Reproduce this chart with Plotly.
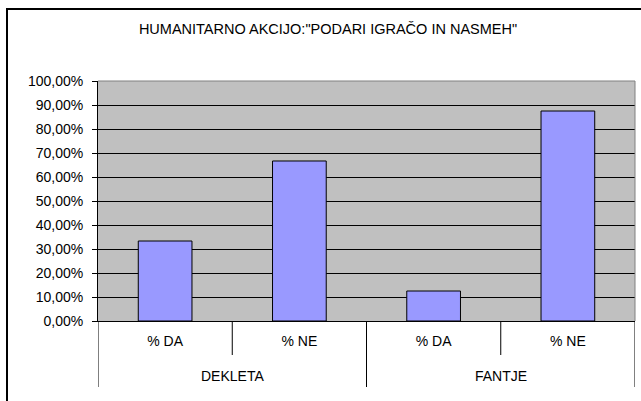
import plotly.graph_objects as go

groups = ["DEKLETA", "DEKLETA", "FANTJE", "FANTJE"]
subs = ["% DA", "% NE", "% DA", "% NE"]
values = [0.3333, 0.6667, 0.125, 0.875]
title_text = 'HUMANITARNO AKCIJO:"PODARI IGRAČO IN NASMEH"'

W, H = 641, 401
L, R, T, B = 98, 6, 81, 80
pw, ph = W - L - R, H - T - B
FONT = "Liberation Sans, Arial, sans-serif"
FS = 14

xs = list(range(len(values)))

fig = go.Figure(go.Bar(
    x=xs, y=values, width=0.4,
    marker=dict(color="#9999FF", line=dict(color="black", width=1)),
    hoverinfo="skip",
))

def px2py(dy):  # pixels below axis -> paper y
    return -dy / ph

shapes = []
n = len(xs)
for i in range(n + 1):
    b = i - 0.5
    is_group_edge = i == 0 or i == n or groups[i] != groups[i - 1]
    depth = 66 if is_group_edge else 34
    shapes.append(dict(type="line", xref="x", yref="paper", x0=b, x1=b,
                       y0=0, y1=px2py(depth), line=dict(color="black", width=1)))
shapes.append(dict(type="line", xref="paper", yref="paper", x0=0, x1=1, y0=1, y1=1,
                   line=dict(color="#808080", width=1), layer="above"))
shapes.append(dict(type="line", xref="paper", yref="paper", x0=1, x1=1, y0=0, y1=1,
                   line=dict(color="#808080", width=1), layer="above"))
shapes.append(dict(type="rect", xref="paper", yref="paper",
                   x0=(7 - L) / pw, x1=1.5, y0=-2, y1=1 + (T - 9) / ph,
                   line=dict(color="black", width=2), layer="below"))

annotations = []
seen = []
for g in groups:
    if g not in seen:
        seen.append(g)
for g in seen:
    idx = [i for i, gg in enumerate(groups) if gg == g]
    annotations.append(dict(x=sum(idx) / len(idx), xref="x", y=0, yref="paper",
                            text=g, showarrow=False, yanchor="middle", yshift=-55,
                            font=dict(family=FONT, size=FS, color="black")))

fig.update_layout(
    width=W, height=H,
    margin=dict(l=L, r=R, t=T, b=B),
    paper_bgcolor="white",
    plot_bgcolor="#C0C0C0",
    separators=", ",
    showlegend=False,
    font=dict(family=FONT, size=FS, color="black"),
    title=dict(text=title_text, x=328 / W, xanchor="center", y=1 - 29 / H, yanchor="middle",
               font=dict(family=FONT, size=14.5, color="black")),
    shapes=shapes,
    annotations=annotations,
)
fig.update_yaxes(range=[0, 1], dtick=0.1, tick0=0, tickformat=".2%",
                 showgrid=True, gridcolor="black", gridwidth=1,
                 showline=True, linecolor="black", linewidth=1,
                 ticks="outside", ticklen=5, tickcolor="black",
                 ticklabelstandoff=6, zeroline=False,
                 tickfont=dict(family=FONT, size=FS, color="black"))
fig.update_xaxes(range=[-0.5, n - 0.5], tickvals=xs, ticktext=subs,
                 showgrid=False, zeroline=False, showline=True, linecolor="black", linewidth=1,
                 ticks="", ticklabelstandoff=7,
                 tickfont=dict(family=FONT, size=FS, color="black"))

fig.write_html("out.html", config={"displayModeBar": False},
               post_script="document.body.style.margin='0';")
